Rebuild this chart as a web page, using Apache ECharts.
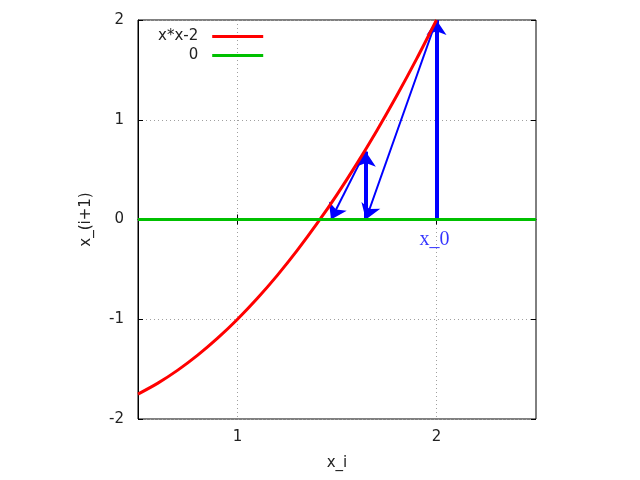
<!DOCTYPE html>
<html><head><meta charset="utf-8">
<script src="https://cdn.jsdelivr.net/npm/echarts@6/dist/echarts.min.js"></script>
<style>html,body{margin:0;padding:0;background:#fff}#c{width:640px;height:480px}</style>
</head><body><div id="c"></div>
<script>
// Data
const curveX = [0.5,0.6,0.7,0.8,0.9,1.0,1.1,1.2,1.3,1.4,1.5,1.6,1.7,1.8,1.9,2.0];
const curveY = [-1.75,-1.64,-1.51,-1.36,-1.19,-1.0,-0.79,-0.56,-0.31,-0.04,0.25,0.56,0.89,1.24,1.61,2.0];
const zeroX = [0.5, 2.5];
const zeroY = [0, 0];
const arrowFrom = [[2,0],[2,2],[1.645,0],[1.645,0.69]];
const arrowTo   = [[2,2],[1.645,0],[1.645,0.68],[1.47,0]];
const arrowWidth = [4,2,4,2];
const xTicks = [1, 2];
const yTicks = [-2,-1,0,1,2];
const x0Label = {x: 2, y: 0, text: 'x_0'};

const FONT = 'DejaVu Sans';
const FS = 15;
const chart = echarts.init(document.getElementById('c'), null, {renderer:'canvas'});
const gridLine = {show:true, lineStyle:{color:'#a0a0a0', type:[1,3], width:1}};
const option = {
  animation:false,
  textStyle:{fontFamily:FONT},
  grid:{left:138, right:104, top:20, bottom:61, show:true, borderColor:'#000', borderWidth:1, backgroundColor:'transparent'},
  legend:{
    orient:'vertical', left:158, top:29, padding:0, align:'right', itemWidth:51, itemHeight:3, itemGap:4,
    icon:'rect',
    textStyle:{fontFamily:FONT, fontSize:FS, color:'#222', width:42, align:'right', padding:[0,9,0,0]},
    data:[{name:'x*x-2', itemStyle:{color:'#ff0000'}}, {name:'0', itemStyle:{color:'#00c000'}}],
    selectedMode:false
  },
  xAxis:[{
    type:'value', min:0.5, max:2.5, position:'bottom',
    name:'x_i', nameLocation:'middle', nameGap:37,
    nameTextStyle:{fontFamily:FONT, fontSize:FS, color:'#222'},
    axisLine:{show:true, lineStyle:{color:'#000'}},
    axisTick:{show:true, inside:true, length:5, customValues:xTicks, lineStyle:{color:'#000'}},
    axisLabel:{customValues:xTicks, fontFamily:FONT, fontSize:FS, color:'#222', margin:11},
    splitLine:gridLine
  },{
    type:'value', min:0.5, max:2.5, position:'top',
    axisLine:{show:false},
    axisTick:{show:true, inside:true, length:5, customValues:xTicks, lineStyle:{color:'#000'}},
    axisLabel:{show:false}, splitLine:{show:false}
  }],
  yAxis:[{
    type:'value', min:yTicks[0], max:yTicks[yTicks.length-1], interval:1, position:'left',
    name:'x_(i+1)', nameLocation:'middle', nameGap:44, nameRotate:90,
    nameTextStyle:{fontFamily:FONT, fontSize:FS, color:'#222'},
    axisLine:{show:true, lineStyle:{color:'#000'}},
    axisTick:{show:true, inside:true, length:5, lineStyle:{color:'#000'}},
    axisLabel:{fontFamily:FONT, fontSize:FS, color:'#222', margin:14},
    splitLine:gridLine
  },{
    type:'value', min:yTicks[0], max:yTicks[yTicks.length-1], interval:1, position:'right',
    axisLine:{show:false},
    axisTick:{show:true, inside:true, length:5, lineStyle:{color:'#000'}},
    axisLabel:{show:false}, splitLine:{show:false}
  }],
  series:[
    {
      type:'lines', coordinateSystem:'cartesian2d', z:3,
      symbol:['none','arrow'], symbolSize:[0,15],
      data: arrowFrom.map((f,i)=>({coords:[f, arrowTo[i]], lineStyle:{width:arrowWidth[i], color:'#0000ff', opacity:1}})),
      lineStyle:{color:'#0000ff', opacity:1}
    },
    {
      name:'x*x-2', type:'line', z:4, symbol:'none', smooth:0.3,
      data: curveX.map((x,i)=>[x, curveY[i]]),
      lineStyle:{color:'#ff0000', width:3}, itemStyle:{color:'#ff0000'}
    },
    {
      name:'0', type:'line', z:4, symbol:'none',
      data: zeroX.map((x,i)=>[x, zeroY[i]]),
      lineStyle:{color:'#00c000', width:3}, itemStyle:{color:'#00c000'}
    },
    {
      type:'scatter', z:5, symbolSize:0, silent:true,
      data:[[x0Label.x, x0Label.y]],
      label:{show:true, position:'bottom', distance:10, offset:[-2,0], formatter:x0Label.text,
        fontFamily:'Liberation Serif', fontSize:20, color:'#0000ff'}
    }
  ]
};
chart.setOption(option);
</script></body></html>
